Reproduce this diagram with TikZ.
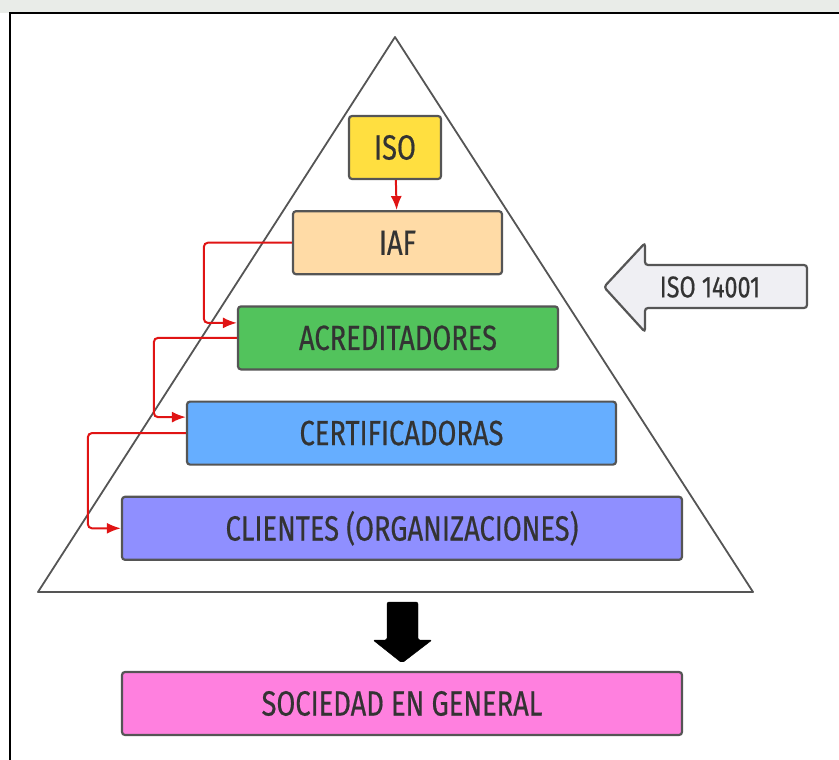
\documentclass[tikz,border=0pt]{standalone}
\usepackage{fontspec}
\setmainfont{Fira Sans}[FakeStretch=0.78, FakeBold=0.5]
\usetikzlibrary{arrows.meta, positioning, shapes}

\definecolor{isoyellow}{HTML}{FFDF40}
\definecolor{iafpeach}{HTML}{FFDBA6}
\definecolor{acredgreen}{HTML}{52C35C}
\definecolor{certblue}{HTML}{66AEFF}
\definecolor{clientviolet}{HTML}{8F8FFF}
\definecolor{socpink}{HTML}{FF80DF}
\definecolor{normgray}{HTML}{EFEFF3}
\definecolor{boxgray}{HTML}{555555}
\definecolor{textgray}{HTML}{333333}
\definecolor{linkred}{HTML}{E01414}
\definecolor{watermark}{HTML}{E9ECE8}

\begin{document}
\begin{tikzpicture}[x=1pt, y=-1pt, node distance=30pt,
	level/.style={draw=boxgray, line width=2.2pt, rounded corners=3pt, minimum height=63pt, text=textgray, font=\fontsize{35}{38}\selectfont},
	link/.style={draw=linkred, line width=2pt, rounded corners=4pt, -{Latex[length=14pt, width=11pt]}}]

\useasboundingbox (0,0) rectangle (839,760);
\fill [watermark] (0,0) rectangle (839,13);
\draw [line width=2pt] (839,13.5) -| (10,760);

% pyramid
\draw [boxgray, line width=1.8pt, line join=round] (395,37) -- (753,592) -- (38,592) -- cycle;

\node [level, fill=isoyellow, minimum width=92pt] (iso) at (395,147.5) {ISO};

\node [level, fill=iafpeach, minimum width=209pt, below=of iso, xshift=2.5pt] (iaf) {IAF};

\node [level, fill=acredgreen, minimum width=320pt, below=of iaf, xshift=0.5pt] (acred) {ACREDITADORES};

\node [level, fill=certblue, minimum width=429pt, below=of acred, xshift=3.5pt] (cert) {CERTIFICADORAS};

\node [level, fill=clientviolet, minimum width=560pt, below=of cert, xshift=0.5pt] (clientes) {CLIENTES (ORGANIZACIONES)};

\node [level, fill=socpink, minimum width=560pt, below=110pt of clientes] (sociedad) {SOCIEDAD EN GENERAL};

% ISO 14001 arrow
\draw [fill=normgray, draw=boxgray, line width=2.2pt, rounded corners=3pt]
	(604,287) -- (645,243) -- (645,265) -- (807,265) -- (807,308) -- (645,308) -- (645,332) -- cycle;
\node [text=textgray, font=\fontsize{30}{32}\selectfont] (norma) at (710,287) {ISO 14001};

% down arrow
\draw [fill=black, rounded corners=2pt]
	(387,602) -- (418,602) -- (418,640) -- (432,640) -- (402,663) -- (373,640) -- (387,640) -- cycle;

\draw [link] (iso) -- (iaf);
\draw [link] (iaf.west) -- ++(-88pt,0) |- ([yshift=15pt]acred.west);
\draw [link] (acred.west) -- ++(-83pt,0) |- ([yshift=16pt]cert.west);
\draw [link] (cert.west) -- ++(-98pt,0) |- (clientes.west);

\end{tikzpicture}
\end{document}
